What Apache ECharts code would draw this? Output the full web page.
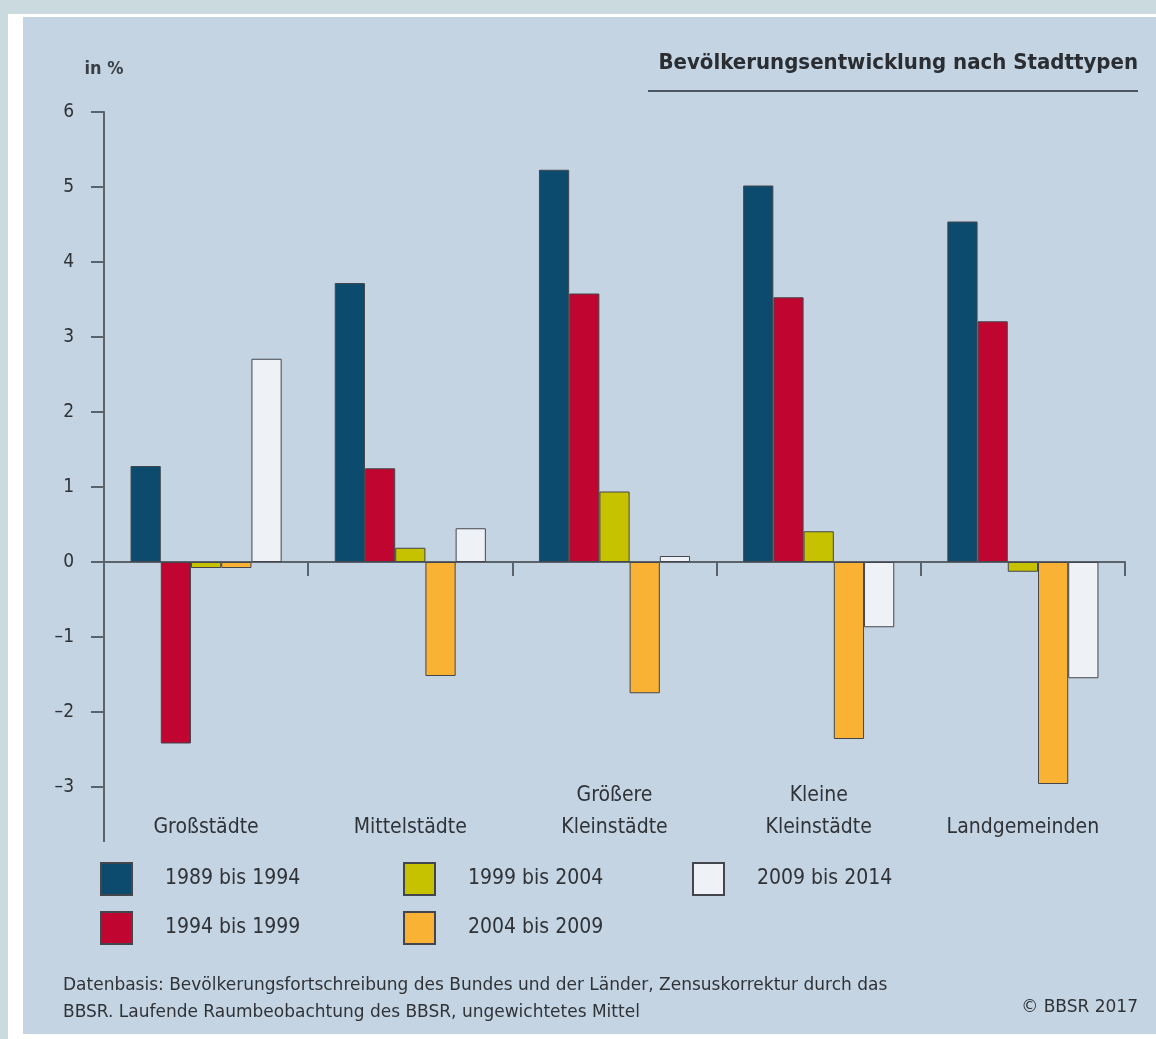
<!DOCTYPE html>
<html>
<head>
<meta charset="utf-8">
<script src="https://cdn.jsdelivr.net/npm/echarts@6/dist/echarts.min.js"></script>
<style>
  html, body { margin: 0; padding: 0; background: #cbdadf; }
  #chart { width: 1156px; height: 1039px; }
</style>
</head>
<body>
<div id="chart"></div>
<script>
// Stadttypen (Kategorien)
const categories = ['Großstädte', 'Mittelstädte', 'Größere\nKleinstädte', 'Kleine\nKleinstädte', 'Landgemeinden'];
// Zeiträume
const periods = ['1989 bis 1994', '1994 bis 1999', '1999 bis 2004', '2004 bis 2009', '2009 bis 2014'];
// Werte in %
const v1989 = [1.28, 3.72, 5.23, 5.02, 4.54];
const v1994 = [-2.42, 1.25, 3.58, 3.53, 3.21];
const v1999 = [-0.08, 0.19, 0.94, 0.41, -0.13];
const v2004 = [-0.08, -1.52, -1.75, -2.36, -2.96];
const v2009 = [2.71, 0.45, 0.08, -0.87, -1.55];
const yTicks = [-3, -2, -1, 0, 1, 2, 3, 4, 5, 6];

const colors = ['#0c4a6e', '#c00530', '#c6c200', '#f9b233', '#eef2f6'];
const font = "'DejaVu Sans Condensed', 'Liberation Sans Narrow', sans-serif";
const wide = "'DejaVu Sans', 'Liberation Sans', sans-serif";
const txt = '#2f3338';

const chart = echarts.init(document.getElementById('chart'));

const values = [v1989, v1994, v1999, v2004, v2009];
const series = periods.map((p, i) => ({
  name: p,
  type: 'bar',
  xAxisIndex: 0,
  data: values[i],
  barGap: 0,
  barCategoryGap: '26%',
  itemStyle: { color: colors[i], borderColor: '#43474d', borderWidth: 1 }
}));

const legendBase = {
  orient: 'vertical',
  padding: 0,
  itemWidth: 31,
  itemHeight: 32,
  itemGap: 15,
  top: 862,
  icon: 'rect',
  selectedMode: false,
  textStyle: { fontFamily: font, fontSize: 21, color: txt, padding: [0, 0, 0, 28] }
};

chart.setOption({
  backgroundColor: 'transparent',
  animation: false,
  textStyle: { fontFamily: font },
  graphic: [
    { type: 'rect', z: -10, shape: { x: 8, y: 14, width: 1148, height: 1025 }, style: { fill: '#ffffff' } },
    { type: 'rect', z: -9, shape: { x: 23, y: 17, width: 1133, height: 1017 }, style: { fill: '#c4d4e3' } },
    { type: 'text', right: 18, top: 52, style: { text: 'Bevölkerungsentwicklung nach Stadttypen', fontFamily: font, fontWeight: 'bold', fontSize: 22, fill: '#2a2e33' } },
    { type: 'line', shape: { x1: 648, y1: 91, x2: 1138, y2: 91 }, style: { stroke: '#4e5761', lineWidth: 2 } },
    { type: 'line', shape: { x1: 104, y1: 787, x2: 104, y2: 842 }, style: { stroke: '#5a636c', lineWidth: 2 } },
    { type: 'text', left: 63, top: 972, style: { text: 'Datenbasis: Bevölkerungsfortschreibung des Bundes und der Länder, Zensuskorrektur durch das\nBBSR. Laufende Raumbeobachtung des BBSR, ungewichtetes Mittel', fontFamily: wide, fontSize: 17, lineHeight: 27, fill: txt } },
    { type: 'text', right: 18, top: 999, style: { text: '© BBSR 2017', fontFamily: wide, fontSize: 17, fill: txt } }
  ],
  legend: [
    Object.assign({}, legendBase, { left: 100, data: [periods[0], periods[1]] }),
    Object.assign({}, legendBase, { left: 403, data: [periods[2], periods[3]] }),
    Object.assign({}, legendBase, { left: 692, data: [periods[4]] })
  ],
  grid: { left: 104, right: 31, top: 112, bottom: 252, containLabel: false },
  xAxis: [
    {
      type: 'category',
      data: categories,
      axisLine: { onZero: true, lineStyle: { color: '#5a636c', width: 2 } },
      axisTick: { show: true, length: 14, lineStyle: { color: '#5a636c', width: 2 } },
      axisLabel: { show: false }
    },
    {
      type: 'category',
      data: categories,
      position: 'bottom',
      axisLine: { show: false, onZero: false },
      axisTick: { show: false },
      axisLabel: { show: true, interval: 0, verticalAlign: 'bottom', margin: 57, lineHeight: 32, fontSize: 21, color: txt, fontFamily: font }
    }
  ],
  yAxis: {
    type: 'value',
    min: yTicks[0],
    max: yTicks[yTicks.length - 1],
    interval: 1,
    name: 'in %',
    nameLocation: 'end',
    nameGap: 34,
    nameTextStyle: { fontFamily: font, fontSize: 18, fontWeight: 'bold', color: '#3a3f45', align: 'center' },
    splitLine: { show: false },
    axisLine: { show: true, lineStyle: { color: '#5a636c', width: 2 } },
    axisTick: { show: true, length: 13, lineStyle: { color: '#5a636c', width: 2 } },
    axisLabel: { fontSize: 19, color: txt, margin: 30, fontFamily: font,
      formatter: v => (v < 0 ? '–' + Math.abs(v) : String(v)) }
  },
  series: series
});
</script>
</body>
</html>
